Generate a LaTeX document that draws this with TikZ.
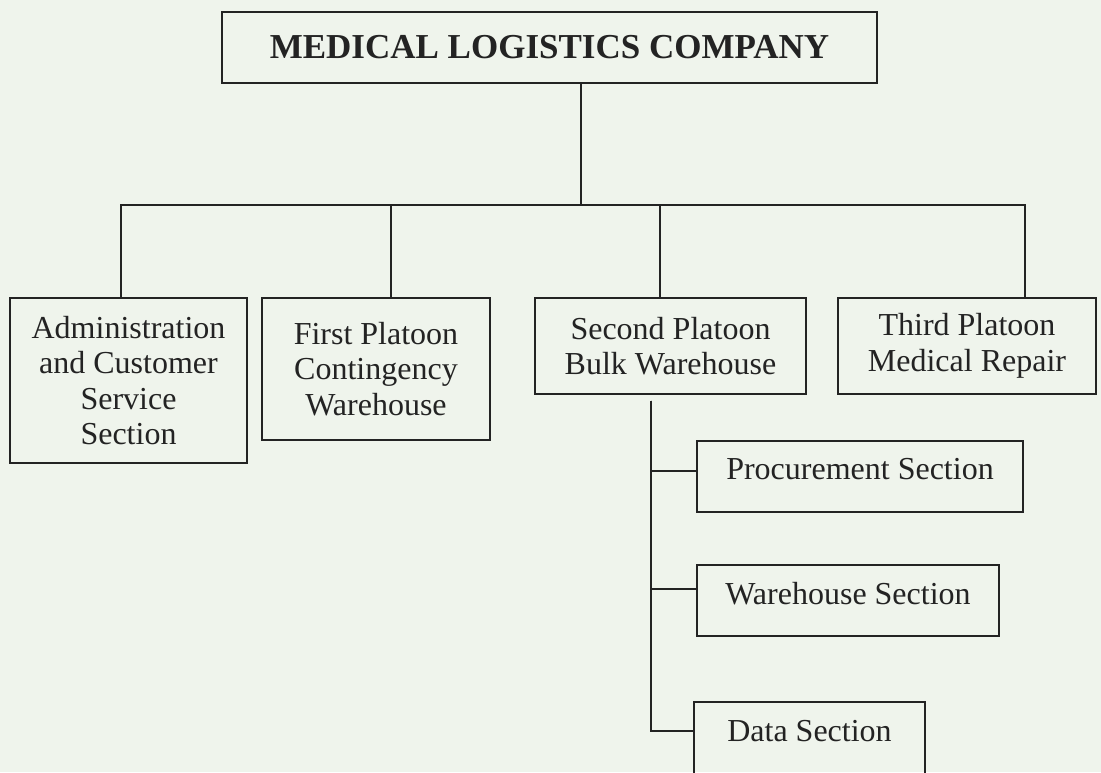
\documentclass[tikz,border=0pt]{standalone}
\usepackage{fontspec}
\setmainfont{Liberation Serif}
\definecolor{paper}{RGB}{239,244,236}
\definecolor{ink}{RGB}{35,35,35}

\begin{document}
\begin{tikzpicture}[x=1pt,y=-1pt,
  unit/.style={draw=ink,text=ink,line width=1.4pt,align=center,inner sep=0pt,
    font=\fontsize{32}{35.5}\selectfont},
  subunit/.style={unit,minimum height=71pt,text depth=15pt},
  link/.style={draw=ink,line width=1.4pt}]
  %page
  \fill[paper] (0,0) rectangle (1101,772);
  \useasboundingbox (0,0) rectangle (1101,772);

  %company box
  \node[unit,minimum width=655pt,minimum height=71pt,font=\fontsize{35}{40}\selectfont\bfseries]
    (company) at (549.5,47.5) {MEDICAL LOGISTICS COMPANY};

  %sections and platoons
  \node[unit,minimum width=237pt,minimum height=165pt] (admin) at (128.5,380.5)
    {Administration\\and Customer\\Service\\Section};
  \node[unit,minimum width=228pt,minimum height=142pt] (first) at (376,369)
    {First Platoon\\Contingency\\Warehouse};
  \node[unit,minimum width=271pt,minimum height=96pt] (second) at (670.5,346)
    {Second Platoon\\Bulk Warehouse};
  \node[unit,minimum width=258pt,minimum height=96pt] (third) at (967,346)
    {Third Platoon\\Medical Repair};

  %second platoon sections
  \node[subunit,minimum width=326pt] (procure) at (860,476.5) {Procurement Section};
  \node[subunit,minimum width=302pt] (store) at (848,600.5) {Warehouse Section};
  \node[subunit,minimum width=231pt,minimum height=72pt] (data) at (809.5,738) {Data Section};

  %company to platoons
  \coordinate (hub) at (581,205);
  \draw[link] (company.south -| hub) -- (hub);
  \draw[link] ([xshift=-7.5pt]admin.north) |- (hub);
  \draw[link] ([xshift=15pt]first.north) |- (hub);
  \draw[link] ([xshift=-10.5pt]second.north) |- (hub);
  \draw[link] ([xshift=58pt]third.north) |- (hub);

  %second platoon to its sections
  \coordinate (spine) at ([xshift=-19.5pt,yshift=-6pt]second.south);
  \draw[link] (spine) |- ([yshift=7pt]data.west);
  \draw[link] (spine) |- ([yshift=5.5pt]procure.west);
  \draw[link] (spine) |- ([yshift=11.5pt]store.west);
\end{tikzpicture}
\end{document}
